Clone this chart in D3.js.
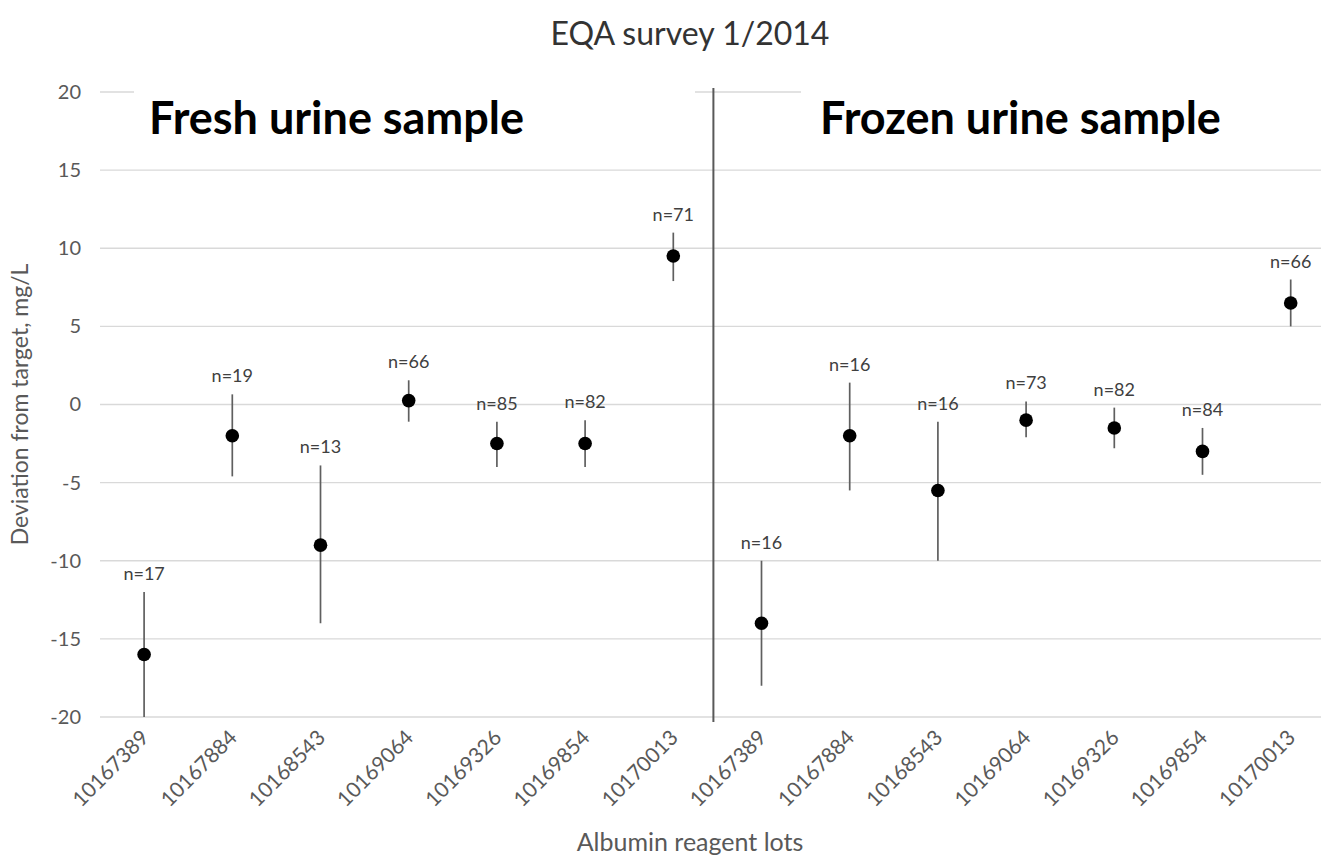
<!DOCTYPE html>
<html>
<head>
<meta charset="utf-8">
<script src="https://cdn.jsdelivr.net/npm/d3@7"></script>
<style>
  html, body { margin: 0; padding: 0; background: #fff; }
  svg { display: block; }
</style>
</head>
<body>
<svg id="chart" width="1321" height="856"></svg>
<script>
// Albumin reagent lots (fresh samples first, then frozen samples)
const lots = ["10167389", "10167884", "10168543", "10169064", "10169326", "10169854", "10170013",
              "10167389", "10167884", "10168543", "10169064", "10169326", "10169854", "10170013"];
// Mean deviation from target, mg/L
const means = [-16.0, -2.0, -9.0, 0.25, -2.5, -2.5, 9.5,
               -14.0, -2.0, -5.5, -1.0, -1.5, -3.0, 6.5];
// Upper and lower ends of each range bar, mg/L
const highs = [-12.0, 0.65, -3.9, 1.55, -1.1, -1.0, 11.0,
               -10.0, 1.4, -1.1, 0.2, -0.2, -1.5, 8.0];
const lows  = [-20.0, -4.6, -14.0, -1.1, -4.0, -4.0, 7.9,
               -18.0, -5.5, -10.0, -2.1, -2.8, -4.5, 5.0];
// Number of results per lot
const counts = [17, 19, 13, 66, 85, 82, 71,
                16, 16, 16, 73, 82, 84, 66];
const yTicks = [-20, -15, -10, -5, 0, 5, 10, 15, 20];
const groupLabels = ["Fresh urine sample", "Frozen urine sample"];

const svg = d3.select("#chart");
const W = 1321, H = 856;
const plotLeft = 100, step = 88.2, plotTop = 92, plotBottom = 717;

const idx = d3.range(lots.length);
const x = d3.scaleBand().domain(idx).range([plotLeft, plotLeft + step * lots.length]).padding(0);
const y = d3.scaleLinear().domain([-20, 20]).range([plotBottom, plotTop]);
const cx = i => x(i) + x.bandwidth() / 2;

const grey = "#595959";
const font = "Lato, 'Open Sans', sans-serif";

// Title
svg.append("text")
  .attr("x", 690).attr("y", 45)
  .attr("text-anchor", "middle")
  .attr("font-family", font)
  .attr("font-size", 32)
  .attr("fill", "#333")
  .text("EQA survey 1/2014");

// Horizontal gridlines
svg.append("g").selectAll("line").data(yTicks).join("line")
  .attr("x1", plotLeft).attr("x2", W)
  .attr("y1", d => y(d)).attr("y2", d => y(d))
  .attr("stroke", "#d9d9d9").attr("stroke-width", 1.3);

// Y axis tick labels (plain hyphen for negatives)
const yAxis = d3.axisLeft(y).tickValues(yTicks).tickSize(0).tickPadding(0)
  .tickFormat(d => String(d));
const gy = svg.append("g").attr("transform", "translate(81,0)").call(yAxis);
gy.select(".domain").remove();
gy.selectAll("text")
  .attr("font-family", font)
  .attr("font-size", 20)
  .attr("fill", grey);

// Y axis title
svg.append("text")
  .attr("transform", `translate(28,${(plotTop + plotBottom) / 2}) rotate(-90)`)
  .attr("text-anchor", "middle")
  .attr("font-family", font)
  .attr("font-size", 23)
  .attr("fill", grey)
  .text("Deviation from target, mg/L");

// X tick labels, rotated
svg.append("g").selectAll("text").data(idx).join("text")
  .attr("transform", i => `translate(${cx(i) + 6},${plotBottom + 22}) rotate(-45)`)
  .attr("text-anchor", "end")
  .attr("font-family", font)
  .attr("font-size", 21)
  .attr("fill", grey)
  .text(i => lots[i]);

// X axis title
svg.append("text")
  .attr("x", 690).attr("y", 851)
  .attr("text-anchor", "middle")
  .attr("font-family", font)
  .attr("font-size", 25)
  .attr("fill", grey)
  .text("Albumin reagent lots");

// Group captions on white boxes
const boxes = [
  { x0: 134, x1: 695, tx: 149 },
  { x0: 801, x1: W, tx: 820 }
];
boxes.forEach((b, k) => {
  svg.append("rect")
    .attr("x", b.x0).attr("y", 72)
    .attr("width", b.x1 - b.x0).attr("height", 80)
    .attr("fill", "#fff");
  svg.append("text")
    .attr("x", b.tx).attr("y", 134)
    .attr("font-family", font)
    .attr("font-weight", "bold")
    .attr("font-size", 45)
    .attr("fill", "#000")
    .text(groupLabels[k]);
});

// Divider between fresh and frozen groups
const dividerX = x(7) - 4;
svg.append("line")
  .attr("x1", dividerX).attr("x2", dividerX)
  .attr("y1", 88).attr("y2", 722)
  .attr("stroke", grey).attr("stroke-width", 2);

// Range bars
svg.append("g").selectAll("line").data(idx).join("line")
  .attr("x1", cx).attr("x2", cx)
  .attr("y1", i => y(highs[i])).attr("y2", i => y(lows[i]))
  .attr("stroke", "#5f5f5f").attr("stroke-width", 1.7);

// Mean points
svg.append("g").selectAll("circle").data(idx).join("circle")
  .attr("cx", cx).attr("cy", i => y(means[i]))
  .attr("r", 6.8)
  .attr("fill", "#000");

// Count labels above each bar
svg.append("g").selectAll("text").data(idx).join("text")
  .attr("x", cx).attr("y", i => y(highs[i]) - 12)
  .attr("text-anchor", "middle")
  .attr("font-family", font)
  .attr("font-size", 18)
  .attr("fill", "#404040")
  .text(i => "n=" + counts[i]);
</script>
</body>
</html>
